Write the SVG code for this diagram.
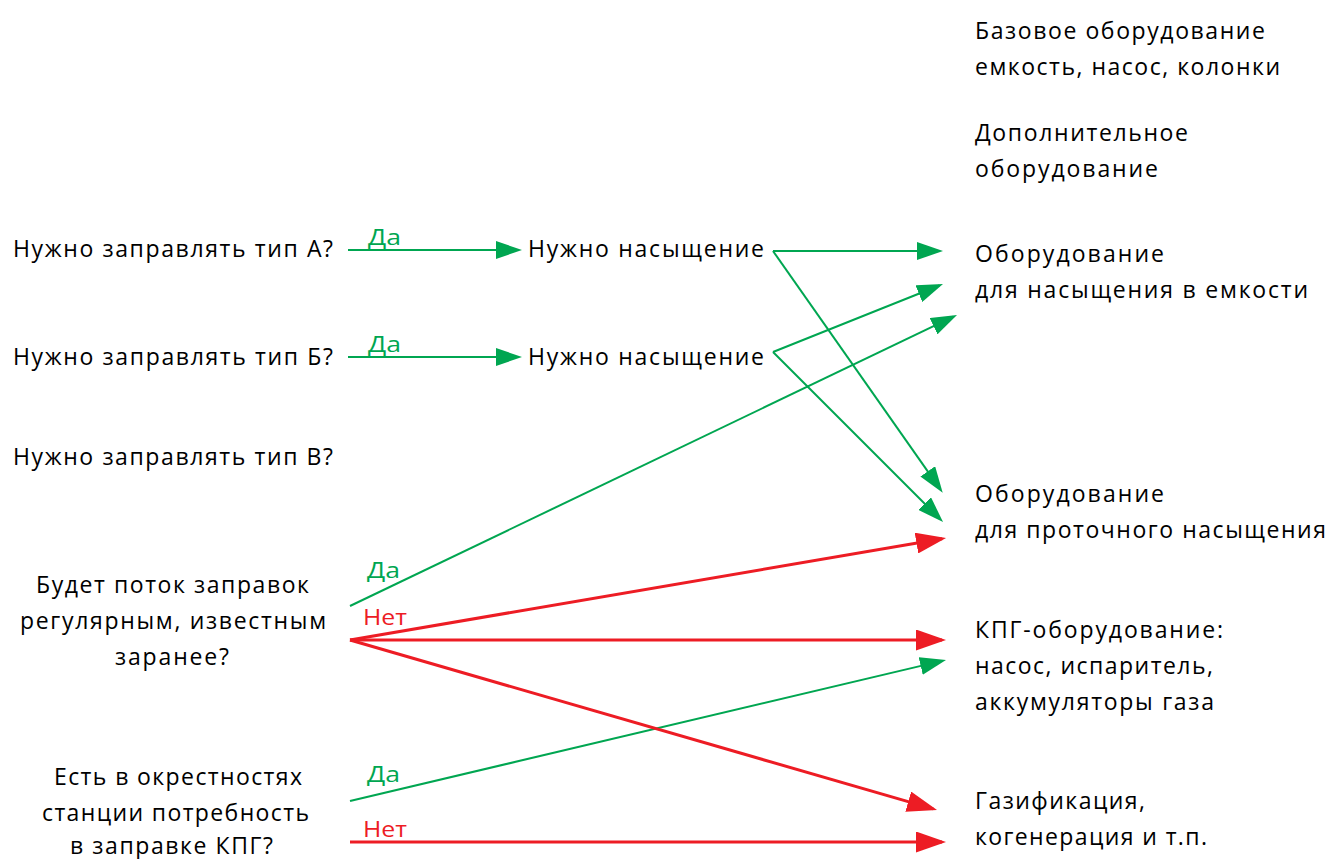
<svg xmlns="http://www.w3.org/2000/svg" width="1330" height="859" viewBox="0 0 1330 859">
<style>
text{font-family:"Open Sans","Liberation Sans",sans-serif;font-size:23px;fill:#000}
.g{stroke:#00A651;stroke-width:2;fill:none}
.r{stroke:#ED1C24;stroke-width:3;fill:none}
text.lg{fill:#00A651;font-size:22px}
text.lr{fill:#ED1C24;font-size:22px}
</style>
<defs>
<marker id="ag" markerUnits="userSpaceOnUse" markerWidth="26" markerHeight="18" refX="22" refY="9" orient="auto" viewBox="0 0 26 18"><path d="M0,0 L26,9 L0,18 z" fill="#00A651"/></marker>
<marker id="ar" markerUnits="userSpaceOnUse" markerWidth="30" markerHeight="21" refX="26" refY="10.5" orient="auto" viewBox="0 0 30 21"><path d="M0,0 L30,10.5 L0,21 z" fill="#ED1C24"/></marker>
</defs>
<g id="connectors">
<line class="g" x1="348" y1="250" x2="518" y2="250" marker-end="url(#ag)"/>
<line class="g" x1="348" y1="357" x2="518" y2="357" marker-end="url(#ag)"/>
<polyline class="g" points="773,251 939,251" marker-end="url(#ag)"/>
<line class="g" x1="773" y1="251" x2="940.4" y2="489.4" marker-end="url(#ag)"/>
<line class="g" x1="773" y1="352" x2="939.3" y2="285.5" marker-end="url(#ag)"/>
<line class="g" x1="773" y1="352" x2="940.2" y2="519.2" marker-end="url(#ag)"/>
<line class="g" x1="350" y1="606" x2="953.4" y2="316.7" marker-end="url(#ag)"/>
<line class="g" x1="350" y1="801" x2="942.1" y2="660.9" marker-end="url(#ag)"/>
<line class="r" x1="350" y1="640" x2="942.1" y2="538.7" marker-end="url(#ar)"/>
<line class="r" x1="350" y1="640" x2="942" y2="640" marker-end="url(#ar)"/>
<line class="r" x1="350" y1="640" x2="933.2" y2="808.9" marker-end="url(#ar)"/>
<line class="r" x1="350" y1="842" x2="942" y2="842" marker-end="url(#ar)"/>
<text class="lg" x="368" y="245" textLength="33" lengthAdjust="spacingAndGlyphs">Да</text>
<text class="lg" x="368" y="352" textLength="33" lengthAdjust="spacingAndGlyphs">Да</text>
<text class="lg" x="367" y="578" textLength="33" lengthAdjust="spacingAndGlyphs">Да</text>
<text class="lr" x="363" y="625" textLength="44" lengthAdjust="spacingAndGlyphs">Нет</text>
<text class="lg" x="367" y="782" textLength="33" lengthAdjust="spacingAndGlyphs">Да</text>
<text class="lr" x="363" y="837" textLength="44" lengthAdjust="spacingAndGlyphs">Нет</text>
</g>
<g id="base"><text x="975" y="39" textLength="290">Базовое оборудование</text><text x="975" y="75" textLength="305">емкость, насос, колонки</text></g>
<g id="extra"><text x="975" y="141" textLength="213">Дополнительное</text><text x="975" y="177" textLength="183">оборудование</text></g>
<g id="tank"><text x="975" y="262" textLength="189">Оборудование</text><text x="975" y="298" textLength="333">для насыщения в емкости</text></g>
<g id="flow"><text x="975" y="502" textLength="189">Оборудование</text><text x="975" y="538" textLength="351">для проточного насыщения</text></g>
<g id="cng"><text x="975" y="638" textLength="248">КПГ-оборудование:</text><text x="975" y="674" textLength="238">насос, испаритель,</text><text x="975" y="710" textLength="239">аккумуляторы газа</text></g>
<g id="gas"><text x="975" y="809" textLength="170">Газификация,</text><text x="975" y="845" textLength="232">когенерация и т.п.</text></g>
<g id="qA"><text x="13" y="257" textLength="320">Нужно заправлять тип А?</text></g>
<g id="qB"><text x="13" y="365" textLength="320">Нужно заправлять тип Б?</text></g>
<g id="qV"><text x="13" y="465" textLength="320">Нужно заправлять тип В?</text></g>
<g id="satA"><text x="528" y="257" textLength="236">Нужно насыщение</text></g>
<g id="satB"><text x="528" y="365" textLength="236">Нужно насыщение</text></g>
<g id="qFlow"><text x="36" y="593" textLength="273">Будет поток заправок</text><text x="20" y="629" textLength="306">регулярным, известным</text><text x="115" y="665" textLength="114">заранее?</text></g>
<g id="qCng"><text x="54" y="785" textLength="248">Есть в окрестностях</text><text x="42" y="821" textLength="267">станции потребность</text><text x="70" y="854" textLength="203">в заправке КПГ?</text></g>
</svg>
